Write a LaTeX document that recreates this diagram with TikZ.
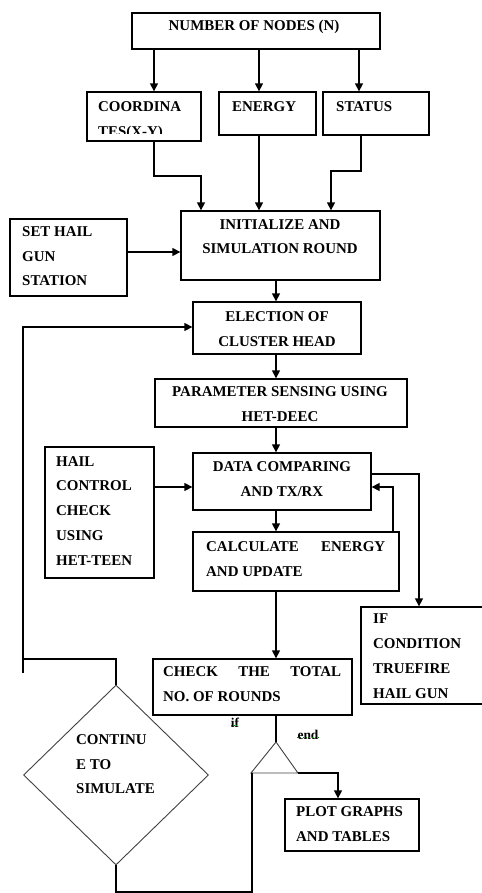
\documentclass[tikz,border=0pt]{standalone}
\usepackage{fontspec}
\setmainfont{Liberation Serif}
\usetikzlibrary{arrows.meta,shapes.geometric}
\begin{document}
\begin{tikzpicture}[x=1bp,y=-1bp,
  box/.style={draw,line width=1.3bp,inner sep=0pt,rectangle},
  txt/.style={inner sep=0pt,font=\bfseries\fontsize{15}{25}\selectfont},
  lbl/.style={inner sep=0pt,font=\bfseries\fontsize{13.5}{14}\selectfont},
  conn/.style={line width=1.3bp},
  arr/.style={line width=1.3bp,-{Triangle[length=8bp,width=8bp]}},
  thin/.style={draw=black!75,line width=0.9bp}]
\useasboundingbox (0,0) rectangle (482,893);
% boxes
\node[box,minimum width=248bp,minimum height=36bp] (top) at (256,31) {};
\node[box,minimum width=114bp,minimum height=49bp] (coord) at (144,116.5) {};
\node[box,minimum width=97bp,minimum height=43bp] (energy) at (267.5,113.5) {};
\node[box,minimum width=106bp,minimum height=43bp] (status) at (376,113.5) {};
\node[box,minimum width=199bp,minimum height=69bp] (init) at (280.5,245.5) {};
\node[box,minimum width=117bp,minimum height=77bp] (sethail) at (68.5,257.5) {};
\node[box,minimum width=168bp,minimum height=52bp] (elect) at (277,328) {};
\node[box,minimum width=252bp,minimum height=48bp] (param) at (281,403) {};
\node[box,minimum width=178bp,minimum height=57bp] (data) at (282,481.5) {};
\node[box,minimum width=109bp,minimum height=131bp] (hail) at (99.5,512.5) {};
\node[box,minimum width=206bp,minimum height=59bp] (calc) at (296,561.5) {};
\node[box,minimum width=140bp,minimum height=97bp] (ifbox) at (431,655.5) {};
\node[box,minimum width=199bp,minimum height=56bp] (check) at (252.5,687) {};
\node[box,minimum width=134bp,minimum height=52bp] (plot) at (352,825) {};
\node[thin,diamond,inner sep=0pt,minimum width=185bp,minimum height=180bp] (dia) at (116,775) {};
% triangle
\coordinate (tapex) at (276,742);
\coordinate (tl) at (251,773);
\coordinate (tr) at (298,773);
\draw[thin] (tapex) -- (tl) -- (tr) -- cycle;
% texts
\node[txt,anchor=north] (ttop) at (254,20) {NUMBER OF NODES (N)};
\begin{scope}
\clip (coord.north west) rectangle (201,133.5);
\node[txt,anchor=north west,align=left] (tcoord) at (98,101) {COORDINA\\TES(X-Y)};
\end{scope}
\node[txt,anchor=north west] (tenergy) at (232,101) {ENERGY};
\node[txt,anchor=north west] (tstatus) at (336,101) {STATUS};
\node[txt,anchor=north,align=center] (tinit) at (280,219) {INITIALIZE AND\\SIMULATION ROUND};
\node[txt,anchor=north west,align=left] (tsethail) at (22,226) {SET HAIL\\GUN\\STATION};
\node[txt,anchor=north,align=center] (telect) at (277,311) {ELECTION OF\\CLUSTER HEAD};
\node[txt,anchor=north,align=center] (tparam) at (280,386) {PARAMETER SENSING USING\\HET-DEEC};
\node[txt,anchor=north,align=center] (tdata) at (282,461) {DATA COMPARING\\AND TX/RX};
\node[txt,anchor=north west,align=left] (thail) at (56,456) {HAIL\\CONTROL\\CHECK\\USING\\HET-TEEN};
\node[txt,anchor=north west,align=left] (tcalc) at (206,541) {\makebox[179bp][s]{CALCULATE ENERGY}\\AND UPDATE};
\node[txt,anchor=north west,align=left] (tif) at (373,614) {IF\\CONDITION\\TRUEFIRE\\HAIL GUN};
\node[txt,anchor=north west,align=left] (tcheck) at (163,666) {\makebox[178bp][s]{CHECK THE TOTAL}\\NO. OF ROUNDS};
\node[txt,anchor=north west,align=left] (tplot) at (296,806) {PLOT GRAPHS\\AND TABLES};
\node[txt,anchor=north west,align=left] (tdia) at (76,734) {CONTINU\\E TO\\SIMULATE};
\node[lbl,anchor=base] (lif) at (235,727) {if};
\node[lbl,anchor=base] (lend) at (308,739) {end};
\draw[green!50!black,dotted,line width=0.9bp] ([yshift=2bp]lif.base west) -- ([yshift=2bp]lif.base east);
\draw[green!50!black,dotted,line width=0.9bp] ([yshift=2bp]lend.base west) -- ([yshift=2bp]lend.base east);
% connectors
\draw[arr] (top.south -| 154,0) -- (coord.north -| 154,0);
\draw[arr] (top.south -| 259,0) -- (energy.north -| 259,0);
\draw[arr] (top.south -| 359,0) -- (status.north -| 359,0);
\draw[arr] (coord.south -| 154,0) -- (154,176) -- (201,176) -- (init.north -| 201,0);
\draw[arr] (energy.south -| 259,0) -- (init.north -| 259,0);
\draw[arr] (status.south -| 361,0) -- (361,171) -- (331,171) -- (init.north -| 331,0);
\draw[arr] (sethail.east |- 0,252) -- (init.west |- 0,252);
\draw[arr] (init.south -| 276,0) -- (elect.north -| 276,0);
\draw[arr] (elect.south -| 276,0) -- (param.north -| 276,0);
\draw[arr] (param.south -| 276,0) -- (data.north -| 276,0);
\draw[arr] (hail.east |- 0,487) -- (data.west |- 0,487);
\draw[arr] (data.south -| 276,0) -- (calc.north -| 276,0);
\draw[arr] (calc.north -| 393,0) -- (393,487) -- (data.east |- 0,487);
\draw[arr] (data.east |- 0,474) -- (419,474) -- (ifbox.north -| 419,0);
\draw[arr] (calc.south -| 276,0) -- (check.north -| 276,0);
\draw[conn] (check.south -| 276,0) -- (tapex);
\draw[arr] (tr) -- (338,773) -- (plot.north -| 338,0);
\draw[conn] (252,773) -- (252,892) -- (116,892) -- (dia.south);
\draw[arr] (dia.north) -- (116,659) -- (23,659) -- (23,327) -- (elect.west |- 0,327);
\draw[conn] (23,659) -- (23,673);
\end{tikzpicture}
\end{document}
